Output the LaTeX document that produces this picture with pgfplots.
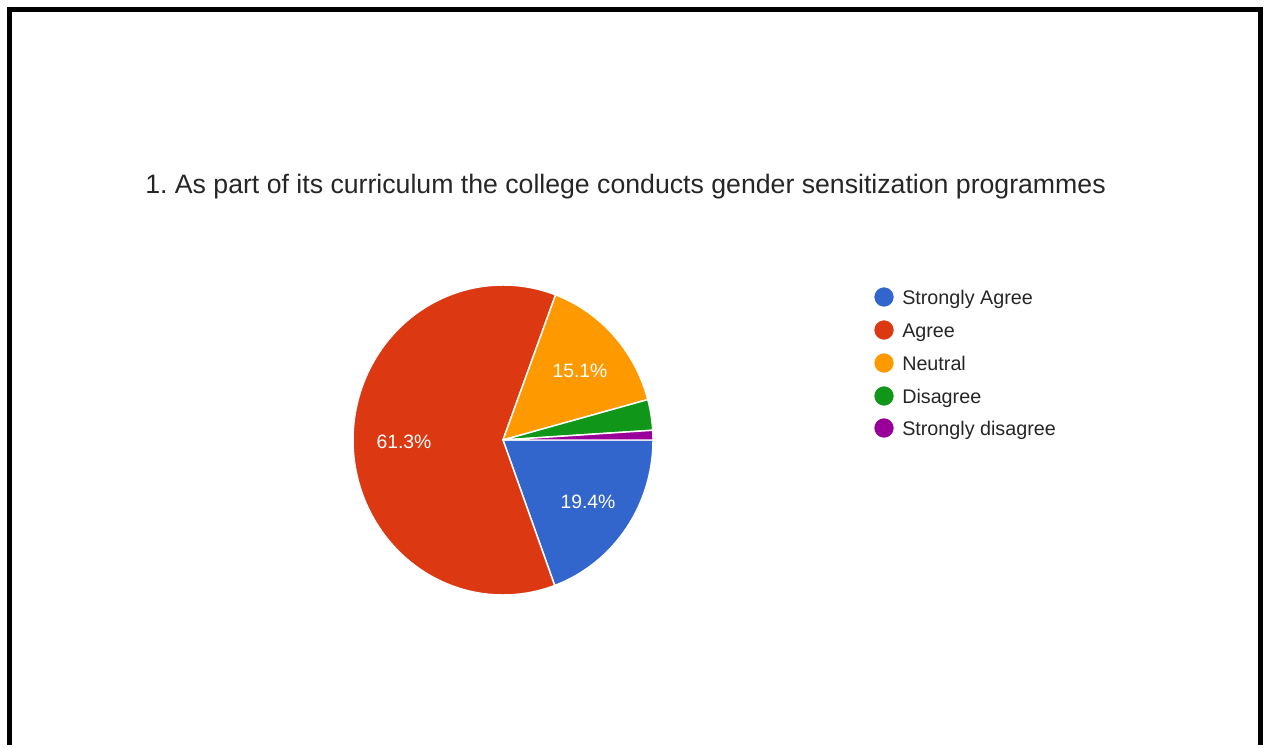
\documentclass[border=0pt]{standalone}
\usepackage{pgfplots}
\pgfplotsset{compat=1.18}
\usepackage{fontspec}
\setmainfont{Liberation Sans}
\frenchspacing
\definecolor{gblue}{HTML}{3366CC}
\definecolor{gred}{HTML}{DC3912}
\definecolor{gorange}{HTML}{FF9900}
\definecolor{ggreen}{HTML}{109618}
\definecolor{gpurple}{HTML}{990099}
\definecolor{txt}{HTML}{262626}
% pie slice: start (cumulative %), share (%), colour; clockwise from 3 o'clock
\newcommand{\slice}[3]{%
  \addplot[fill=#3, draw=white, line width=1.1pt, line join=round,
    domain={-3.6*(#1+#2)}:{-3.6*(#1)}, samples=120, variable=\t]
    ({503+150*cos(\t)}, {440-155*sin(\t)}) -- (axis cs:503,440) -- cycle;
}
\newcommand{\legtext}[2]{%
  \node[anchor=base west, text=txt, font=\fontsize{14.8}{17}\selectfont, inner sep=0pt] at (axis cs:902,#2) {#1};
}
\begin{document}
\begin{tikzpicture}
\begin{axis}[
  scale only axis, width=948.75pt, height=555pt,
  xmin=0, xmax=1265, ymin=0, ymax=740, y dir=reverse,
  hide axis, clip=false]
\path (axis cs:0,0) rectangle (axis cs:1265,740);
% frame
\draw[black, line width=3.75pt] (axis cs:9.5,745) -- (axis cs:9.5,9.5) -- (axis cs:1260.5,9.5) -- (axis cs:1260.5,745);
% title
\node[anchor=base west, text=txt, font=\fontsize{20}{24}\selectfont, inner sep=0pt]
  at (axis cs:145,194) {1. As part of its curriculum the college conducts gender sensitization programmes};
% pie slices (percentages)
\slice{0}{19.4}{gblue}
\slice{19.4}{61.3}{gred}
\slice{80.7}{15.1}{gorange}
\slice{95.8}{3.2}{ggreen}
\slice{99.0}{1.0}{gpurple}
% slice labels
\node[text=white, font=\fontsize{14.5}{16}\selectfont] at (axis cs:404,442) {61.3\%};
\node[text=white, font=\fontsize{14.5}{16}\selectfont] at (axis cs:580,371) {15.1\%};
\node[text=white, font=\fontsize{14.5}{16}\selectfont] at (axis cs:588,502) {19.4\%};
% legend
\addplot[only marks, mark=*, mark size=7pt, color=gblue] coordinates {(884,297)};
\addplot[only marks, mark=*, mark size=7pt, color=gred] coordinates {(884,330)};
\addplot[only marks, mark=*, mark size=7pt, color=gorange] coordinates {(884,363)};
\addplot[only marks, mark=*, mark size=7pt, color=ggreen] coordinates {(884,396)};
\addplot[only marks, mark=*, mark size=7pt, color=gpurple] coordinates {(884,428)};
\legtext{Strongly Agree}{304}
\legtext{Agree}{337}
\legtext{Neutral}{370}
\legtext{Disagree}{403}
\legtext{Strongly disagree}{435}
\end{axis}
\end{tikzpicture}
\end{document}
